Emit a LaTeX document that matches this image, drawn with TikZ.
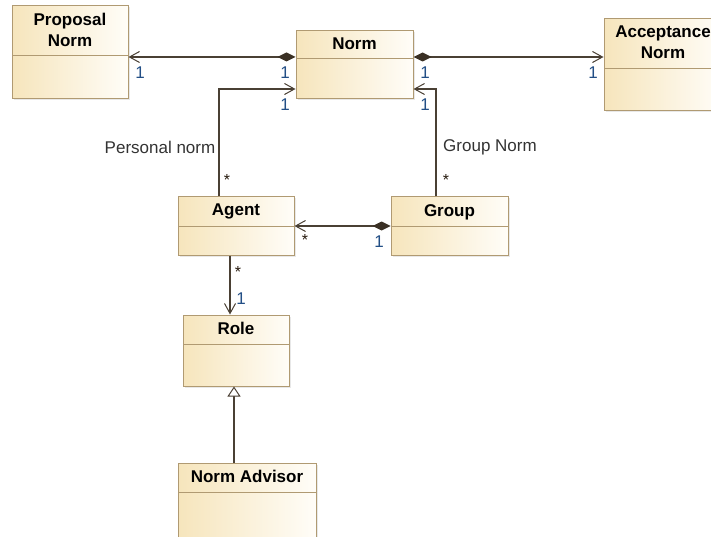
\documentclass[tikz,border=0pt]{standalone}
\usepackage{fontspec}
\setmainfont{Liberation Sans}
\usetikzlibrary{arrows.meta,shadows,calc}

\definecolor{clsborder}{HTML}{B09A72}
\definecolor{clsleft}{HTML}{F6E5BC}
\definecolor{clsright}{HTML}{FFFDF8}
\definecolor{linecol}{HTML}{4A4034}
\definecolor{diamcol}{HTML}{3A3024}
\definecolor{multblue}{HTML}{234F86}
\definecolor{lblgray}{HTML}{333333}

\tikzset{
  umlbox/.style={draw=clsborder, line width=1pt, left color=clsleft, right color=clsright,
    inner sep=0pt, drop shadow={shadow xshift=1.5pt, shadow yshift=-1.5pt, opacity=0.18}},
  umltitle/.style={font=\bfseries\fontsize{17}{21}\selectfont, align=center, anchor=north, inner sep=0pt},
  conn/.style={draw=linecol, line width=1.1pt},
  navhead/.style={-{Straight Barb[length=10pt, width=11pt, line width=1pt]}},
  comphead/.style={{Diamond[length=18pt, width=9pt, fill=diamcol, color=diamcol]}-{Straight Barb[length=10pt, width=11pt, line width=1pt]}},
  genhead/.style={-{Triangle[open, length=10pt, width=13pt, line width=1pt, fill=white]}},
  mult/.style={font=\fontsize{17}{19}\selectfont, text=multblue, inner sep=0pt},
  star/.style={font=\fontsize{16}{19}\selectfont, text=black!80!brown, inner sep=0pt},
  rolename/.style={font=\fontsize{17}{19}\selectfont, text=lblgray, inner sep=0pt}
}

% class box: name, x1, y1, x2, y2, divider y, title
\newcommand\umlclass[7]{%
  \node[umlbox, minimum width={(#4-#2)*1pt}, minimum height={(#5-#3)*1pt}]
    (#1) at ({(#2+#4)/2},{(#3+#5)/2}) {};
  \draw[clsborder, line width=1pt] (#2,#6) -- (#4,#6);
  \node[umltitle] (#1-title) at ($(#1.north)+(0,7.5)$) {#7};
}

\begin{document}
\begin{tikzpicture}[x=1pt, y=-1pt]
  \useasboundingbox (0,0) rectangle (711,537);
  \clip (0,0) rectangle (711,537);
  \fill[white] (0,0) rectangle (711,537);

  % classes
  \umlclass{prop}{12}{6}{128}{99}{56}{Proposal\\Norm}
  \umlclass{norm}{296}{31}{413}{99}{59}{Norm}
  \umlclass{accept}{604}{19}{722}{111}{69}{Acceptance\\Norm}
  \umlclass{agent}{178}{197}{294}{255}{226}{Agent}
  \umlclass{group}{391}{197}{508}{255}{226}{Group}
  \umlclass{role}{183}{315}{289}{386}{344}{Role}
  \umlclass{advisor}{178}{463}{316}{550}{492}{Norm Advisor}

  % compositions owned by Norm
  \draw[conn, comphead] (norm.west |- 0,57) -- (prop.east |- 0,57);
  \draw[conn, comphead] (norm.east |- 0,57) -- (accept.west |- 0,57);

  % personal and group norms
  \draw[conn, navhead] (agent.north -| 219,0) |- (norm.west |- 0,89);
  \draw[conn, navhead] (group.north -| 436,0) |- (norm.east |- 0,89);

  % group members
  \draw[conn, comphead] (group.west |- 0,226) -- (agent.east |- 0,226);

  % agent plays a role
  \draw[conn, navhead] (agent.south -| 230,0) -- (role.north -| 230,0);

  % advisor is a role
  \draw[conn, genhead] (advisor.north -| 234,0) -- (role.south -| 234,0);

  % multiplicities
  \node[mult] (m-prop) at (140,73) {1};
  \node[mult] (m-normL) at (285,73) {1};
  \node[mult] (m-normLp) at (285,105) {1};
  \node[mult] (m-normR) at (425,73) {1};
  \node[mult] (m-normRg) at (425,105) {1};
  \node[mult] (m-acc) at (593,73) {1};
  \node[mult] (m-grp) at (379,242) {1};
  \node[mult] (m-role) at (241,299) {1};
  \node[star] (s-agentN) at (227,180) {*};
  \node[star] (s-groupN) at (446,180) {*};
  \node[star] (s-agentG) at (305,240) {*};
  \node[star] (s-agentR) at (238,272) {*};

  % association names
  \node[rolename] (pn) at (160,147) {Personal norm};
  \node[rolename] (gn) at (490,147) {Group Norm};
\end{tikzpicture}
\end{document}
